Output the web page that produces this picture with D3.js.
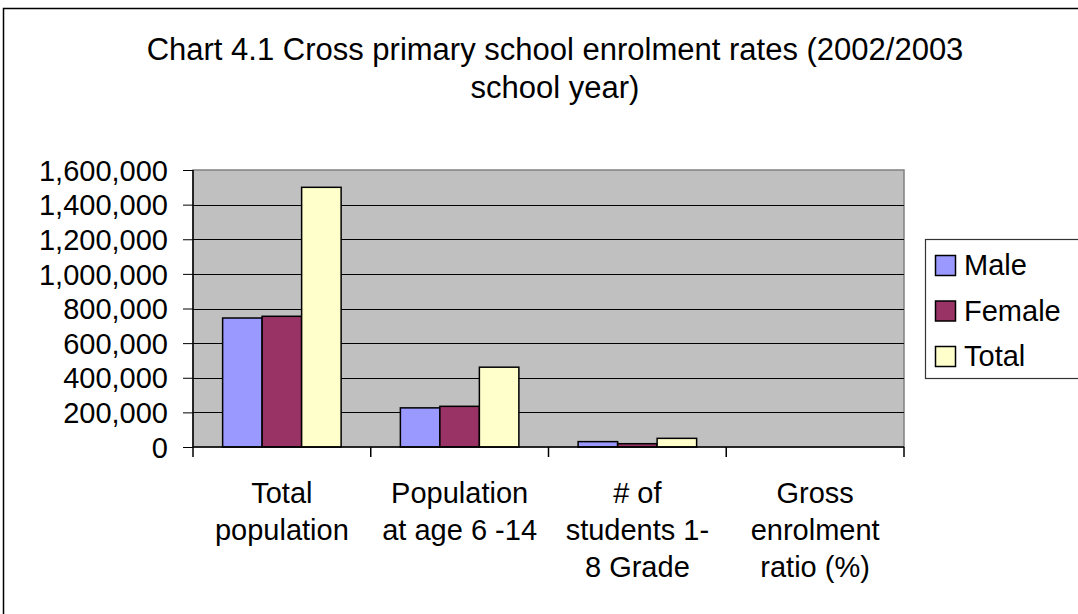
<!DOCTYPE html>
<html><head><meta charset="utf-8">
<script src="https://cdn.jsdelivr.net/npm/d3@7"></script>
<style>html,body{margin:0;padding:0;background:#fff;}svg{display:block;font-family:"Liberation Sans",Arial,sans-serif;}</style>
</head><body>
<svg id="chart" width="1078" height="614"></svg>
<script>
const categories = [
  ["Total", "population"],
  ["Population", "at age 6 -14"],
  ["# of", "students 1-", "8 Grade"],
  ["Gross", "enrolment", "ratio (%)"]
];
const seriesNames = ["Male", "Female", "Total"];
const seriesColors = ["#9999FF", "#993366", "#FFFFCC"];
const maleValues   = [745000, 226000, 31000, null];
const femaleValues = [755000, 235000, 19000, null];
const totalValues  = [1500000, 461000, 50000, null];
const yTicks = [0, 200000, 400000, 600000, 800000, 1000000, 1200000, 1400000, 1600000];
const titleLines = ["Chart 4.1 Cross primary school enrolment rates (2002/2003", "school year)"];

const seriesValues = [maleValues, femaleValues, totalValues];
const svg = d3.select("#chart");
const fs = 29;

// outer frame
svg.append("rect").attr("x", 3.5).attr("y", 8.5).attr("width", 1100).attr("height", 700)
  .attr("fill", "#fff").attr("stroke", "#000").attr("stroke-width", 1.5);

const L = 193, R = 904, T = 170, B = 447;
const x0 = d3.scaleBand().domain(d3.range(categories.length)).range([L, R]).paddingInner(0).paddingOuter(0);
const x1 = d3.scaleBand().domain(d3.range(seriesNames.length)).range([0, x0.bandwidth()]).paddingInner(0).paddingOuter(0.75);
const y = d3.scaleLinear().domain([0, 1600000]).range([B, T]);

// plot area
svg.append("rect").attr("x", L).attr("y", T).attr("width", R - L).attr("height", B - T)
  .attr("fill", "#C0C0C0").attr("stroke", "#808080").attr("stroke-width", 1.5);

// gridlines
svg.append("g").selectAll("line").data(yTicks.filter(d => d > 0 && d < 1600000)).join("line")
  .attr("x1", L).attr("x2", R).attr("y1", d => Math.round(y(d)) + 0.5).attr("y2", d => Math.round(y(d)) + 0.5)
  .attr("stroke", "#000").attr("stroke-width", 1);

// bars
const groups = svg.append("g").selectAll("g").data(categories.map((c, i) => i)).join("g")
  .attr("transform", i => `translate(${x0(i)},0)`);
groups.selectAll("rect").data(i => seriesValues.map((s, j) => ({j, v: s[i]})).filter(d => d.v != null)).join("rect")
  .attr("x", d => x1(d.j)).attr("width", x1.bandwidth())
  .attr("y", d => y(d.v)).attr("height", d => y(0) - y(d.v))
  .attr("fill", d => seriesColors[d.j]).attr("stroke", "#000").attr("stroke-width", 1.5);

// y axis
const yAxis = d3.axisLeft(y).tickValues(yTicks).tickSize(10).tickPadding(15)
  .tickFormat(d3.format(","));
const ga = svg.append("g").attr("transform", `translate(${L},0)`).call(yAxis);
ga.select(".domain").remove();
ga.selectAll(".tick line").attr("stroke", "#000").attr("stroke-width", 1);
ga.selectAll(".tick text").attr("font-size", fs).attr("fill", "#000")
  .attr("font-family", "'Liberation Sans', Arial, sans-serif").attr("dy", "0.35em");
svg.append("line").attr("x1", L).attr("x2", L).attr("y1", T).attr("y2", B + 10).attr("stroke", "#000").attr("stroke-width", 1.5);

// x axis
svg.append("line").attr("x1", L).attr("x2", R).attr("y1", B).attr("y2", B).attr("stroke", "#000").attr("stroke-width", 1.5);
const catBounds = d3.range(categories.length + 1).map(i => i < categories.length ? x0(i) : x0(categories.length - 1) + x0.bandwidth());
svg.append("g").selectAll("line").data(catBounds.slice(1)).join("line")
  .attr("x1", d => d).attr("x2", d => d).attr("y1", B).attr("y2", B + 10).attr("stroke", "#000").attr("stroke-width", 1.5);

svg.append("g").selectAll("text").data(categories.map((c, i) => i)).join("text")
  .attr("text-anchor", "middle").attr("font-size", fs).attr("fill", "#000")
  .attr("x", i => x0(i) + x0.bandwidth() / 2).attr("y", 503)
  .selectAll("tspan").data(i => categories[i].map(t => ({t, i}))).join("tspan")
  .attr("x", d => x0(d.i) + x0.bandwidth() / 2).attr("dy", (d, k) => k === 0 ? 0 : 37).text(d => d.t);

// title
svg.append("g").selectAll("text").data(titleLines).join("text")
  .attr("x", 555).attr("y", (d, i) => 60 + i * 38).attr("text-anchor", "middle")
  .attr("font-size", 31).attr("fill", "#000").text(d => d);

// legend
const lg = svg.append("g");
lg.append("rect").attr("x", 925.5).attr("y", 239.5).attr("width", 200).attr("height", 139)
  .attr("fill", "#fff").attr("stroke", "#333").attr("stroke-width", 1.2);
const items = lg.selectAll("g").data(seriesNames).join("g")
  .attr("transform", (d, i) => `translate(0,${i * 45.5})`);
items.append("rect").attr("x", 935.5).attr("y", 255.5).attr("width", 20).attr("height", 20)
  .attr("fill", (d, i) => seriesColors[i]).attr("stroke", "#000").attr("stroke-width", 1.5);
items.append("text").attr("x", 964).attr("y", 275).attr("font-size", fs).attr("fill", "#000").text(d => d);
</script>
</body></html>
